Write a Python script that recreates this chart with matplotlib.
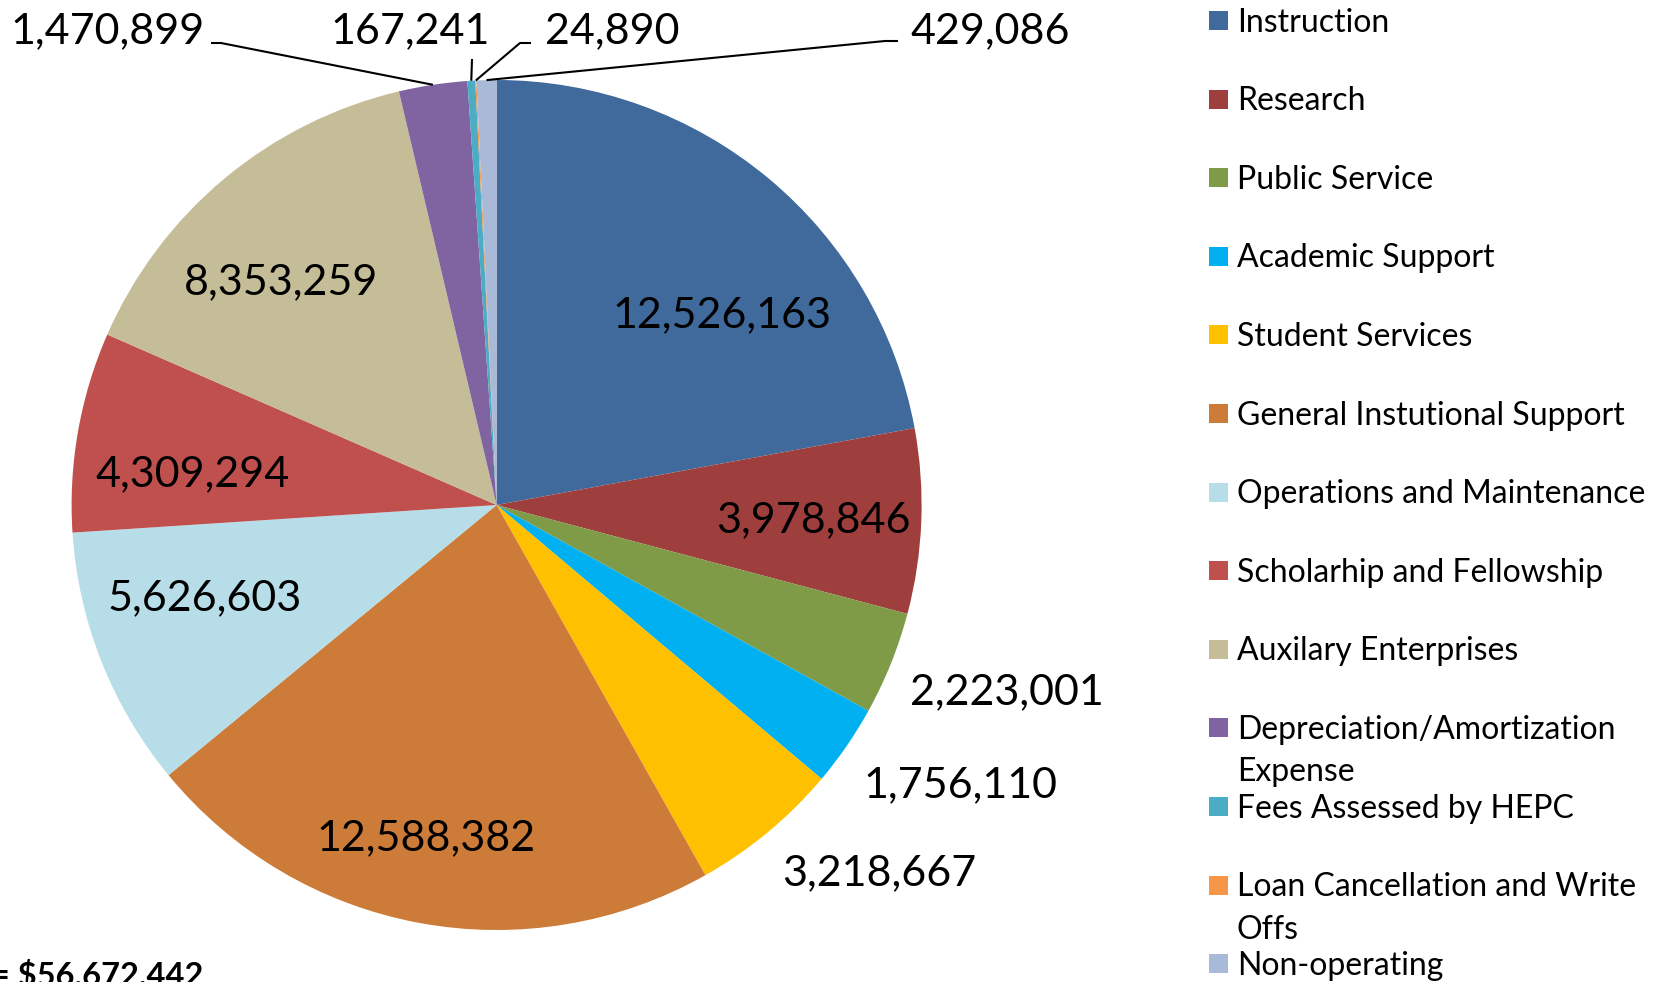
import matplotlib
matplotlib.use("Agg")
import matplotlib.pyplot as plt
import numpy as np
from matplotlib.patches import Rectangle

plt.rcParams['font.family'] = ['Lato', 'DejaVu Sans']

# expense categories and amounts ($)
categories = ["Instruction", "Research", "Public Service", "Academic Support",
              "Student Services", "General Instutional Support",
              "Operations and Maintenance", "Scholarhip and Fellowship",
              "Auxilary Enterprises", "Depreciation/Amortization\nExpense",
              "Fees Assessed by HEPC", "Loan Cancellation and Write\nOffs",
              "Non-operating"]
amounts = [12526163, 3978846, 2223001, 1756110, 3218667, 12588382, 5626603,
           4309294, 8353259, 1470899, 167241, 24890, 429086]
colors = ["#40699C", "#9E3F3D", "#7F9B48", "#00B0F0", "#FFC000", "#CD7B38",
          "#B7DEE8", "#C0504D", "#C4BD97", "#8064A2", "#4BACC6", "#F79646",
          "#A9B9D8"]
total_text = "Total = $56,672,442"

W, H = 1664, 982
CX, CY, R = 496.6, 505.0, 425.0   # pie centre / radius in pixels

# value label placement (centre x, baseline y) in pixels
label_xy = [(721.5, 327), (813.5, 532.5), (1007, 704), (960, 797), (879, 885),
            (426.5, 850), (205, 610.5), (193, 486.5), (281, 294),
            (107.5, 43.5), (410, 43.5), (612, 43.5), (990.5, 43.5)]
# leader line bends for the thin slices at the top
leader_bends = {9: [(211, 43), (221, 43)],
                10: [(472, 59)],
                11: [(531, 43), (520, 43)],
                12: [(898, 41), (885, 41)]}


def to_data(px, py):
    return (px - CX) / R, (CY - py) / R


fig = plt.figure(figsize=(W / 100, H / 100), dpi=100)
ax = fig.add_axes([0, 0, 1, 1])
wedges, _ = ax.pie(amounts, colors=colors, startangle=90, counterclock=False,
                   radius=1, wedgeprops=dict(linewidth=0))
ax.set_aspect('auto')
ax.set_xlim(-CX / R, (W - CX) / R)
ax.set_ylim(-(H - CY) / R, CY / R)
ax.axis('off')

for i, (w, v) in enumerate(zip(wedges, amounts)):
    x, y = to_data(*label_xy[i])
    ax.text(x, y, f"{v:,}", ha='center', va='baseline', fontsize=31, color='black')
    if i in leader_bends:
        mid = np.deg2rad((w.theta1 + w.theta2) / 2)
        pts = [to_data(*p) for p in leader_bends[i]]
        pts.append((np.cos(mid), np.sin(mid)))
        xs, ys = zip(*pts)
        ax.plot(xs, ys, color='black', lw=1.5, solid_capstyle='butt')

# legend, fixed pitch like the spreadsheet original
pitch = 78.6
for i, (name, c) in enumerate(zip(categories, colors)):
    yc = 20.5 + i * pitch
    fig.patches.append(Rectangle(((1209) / W, 1 - (yc + 9.5) / H), 19 / W, 19 / H,
                                 transform=fig.transFigure, facecolor=c,
                                 edgecolor='none'))
    for k, line in enumerate(name.split("\n")):
        fig.text(1237 / W, 1 - (yc + 11 + k * 42.5) / H, line, fontsize=23,
                 ha='left', va='baseline', color='black')

fig.text(203 / W, 1 - 985 / H, total_text, fontsize=23.5, fontweight='bold',
         ha='right', va='baseline', color='black')

fig.savefig("out.png", dpi=100)
